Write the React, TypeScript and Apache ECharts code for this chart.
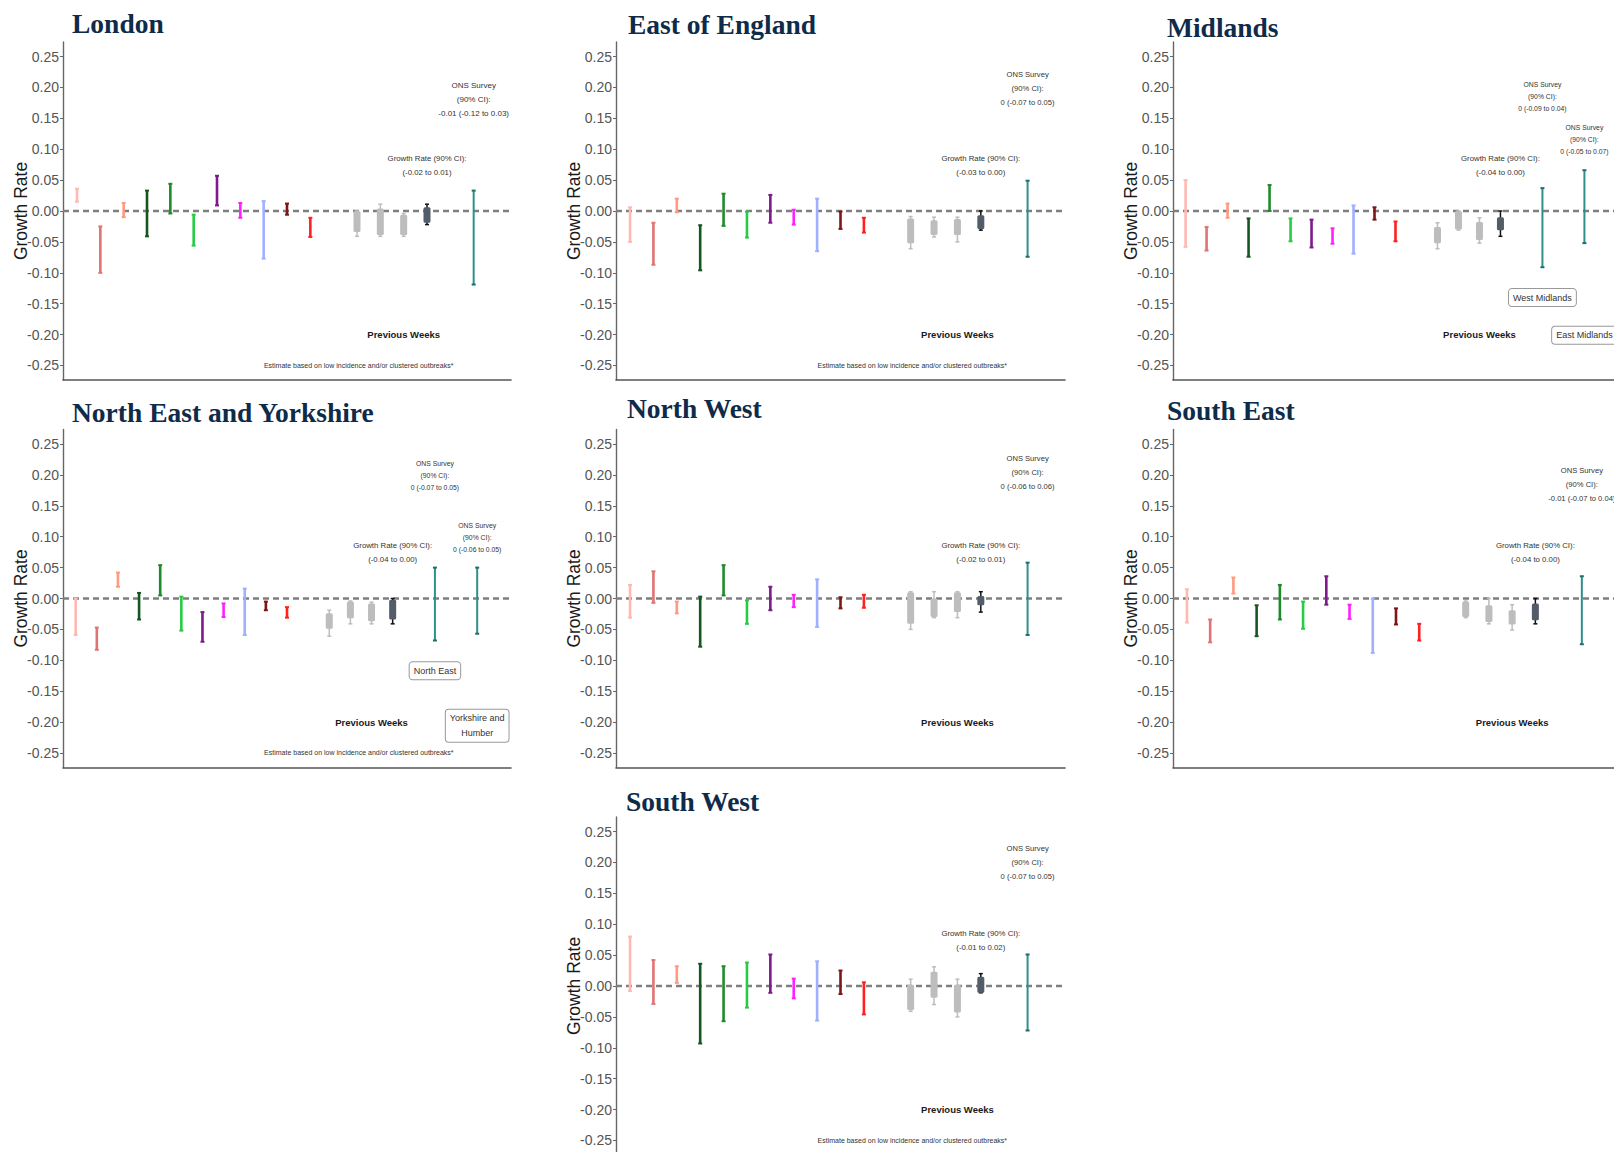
import React, { useEffect, useRef } from 'react';
import * as echarts from 'echarts';

// ---------- data ----------
const BAR_COLORS = ['#ffb8b2', '#e07474', '#ff9a80', '#16561f', '#1f8a2b', '#27cc45', '#7e1a8c', '#ff1fff', '#9fb0ff', '#7d1616', '#ff2020'];
const GRAY = '#bdbdbd';
const DARK_BOX = '#525d69';
const TEAL = '#2f8f8a';
const Y_TICKS = [-0.25, -0.2, -0.15, -0.1, -0.05, 0, 0.05, 0.1, 0.15, 0.2, 0.25];

// [low, high] for the 11 coloured weeks
const londonBars = [[0.015, 0.036], [-0.100, -0.025], [-0.010, 0.013], [-0.041, 0.033], [-0.004, 0.044], [-0.056, -0.006], [0.009, 0.057], [-0.011, 0.013], [-0.077, 0.016], [-0.006, 0.012], [-0.042, -0.011]];
const eastBars = [[-0.050, 0.006], [-0.087, -0.019], [-0.002, 0.020], [-0.096, -0.023], [-0.024, 0.028], [-0.043, -0.001], [-0.019, 0.026], [-0.022, 0.002], [-0.065, 0.020], [-0.029, -0.001], [-0.035, -0.011]];
const midlandsBars = [[-0.058, 0.050], [-0.064, -0.026], [-0.011, 0.012], [-0.074, -0.012], [0.000, 0.042], [-0.049, -0.012], [-0.059, -0.014], [-0.053, -0.028], [-0.069, 0.009], [-0.014, 0.006], [-0.049, -0.017]];
const neyBars = [[-0.059, 0.000], [-0.083, -0.047], [0.019, 0.042], [-0.034, 0.009], [0.005, 0.054], [-0.052, 0.003], [-0.070, -0.022], [-0.030, -0.008], [-0.059, 0.016], [-0.019, -0.005], [-0.031, -0.014]];
const nwBars = [[-0.031, 0.022], [-0.007, 0.044], [-0.024, -0.005], [-0.078, 0.003], [0.005, 0.054], [-0.041, -0.003], [-0.019, 0.019], [-0.014, 0.006], [-0.046, 0.031], [-0.016, 0.002], [-0.015, 0.006]];
const seBars = [[-0.039, 0.015], [-0.071, -0.034], [0.008, 0.034], [-0.061, -0.011], [-0.034, 0.022], [-0.049, -0.005], [-0.010, 0.036], [-0.033, -0.010], [-0.088, 0.000], [-0.042, -0.016], [-0.068, -0.041]];
const swBars = [[-0.008, 0.080], [-0.029, 0.042], [0.005, 0.032], [-0.093, 0.036], [-0.057, 0.032], [-0.035, 0.038], [-0.011, 0.051], [-0.020, 0.012], [-0.056, 0.040], [-0.013, 0.025], [-0.046, 0.006]];

// previous weeks: [whiskerLow, boxLow, boxHigh, whiskerHigh]
const londonPrev = [[-0.041, -0.034, 0.000, 0.000], [-0.041, -0.039, 0.004, 0.011], [-0.041, -0.039, -0.006, -0.004], [-0.022, -0.019, 0.006, 0.011]];
const eastPrev = [[-0.061, -0.052, -0.012, -0.009], [-0.042, -0.039, -0.015, -0.010], [-0.050, -0.039, -0.013, -0.010], [-0.031, -0.029, -0.007, 0.000]];
const midlandsPrev = [[-0.061, -0.052, -0.026, -0.019], [-0.031, -0.030, 0.000, 0.000], [-0.052, -0.047, -0.018, -0.011], [-0.041, -0.031, -0.010, 0.000]];
const neyPrev = [[-0.061, -0.049, -0.024, -0.019], [-0.041, -0.032, -0.005, -0.004], [-0.041, -0.037, -0.008, -0.006], [-0.041, -0.034, -0.002, 0.000]];
const nwPrev = [[-0.050, -0.041, 0.010, 0.011], [-0.031, -0.030, 0.000, 0.011], [-0.031, -0.022, 0.010, 0.011], [-0.022, -0.011, 0.004, 0.011]];
const sePrev = [[-0.031, -0.030, -0.005, -0.004], [-0.041, -0.038, -0.011, 0.000], [-0.051, -0.042, -0.019, -0.010], [-0.041, -0.035, -0.008, 0.000]];
const swPrev = [[-0.041, -0.039, 0.002, 0.011], [-0.030, -0.019, 0.023, 0.031], [-0.050, -0.043, 0.002, 0.011], [-0.011, -0.011, 0.015, 0.020]];

// ONS survey [low, high]
const londonOns = [[-0.119, 0.033]];
const eastOns = [[-0.074, 0.049]];
const midlandsOns = [[-0.091, 0.037], [-0.052, 0.066]];
const neyOns = [[-0.068, 0.050], [-0.057, 0.050]];
const nwOns = [[-0.059, 0.058]];
const seOns = [[-0.074, 0.036]];
const swOns = [[-0.072, 0.051]];

const londonOnsText = ['-0.01 (-0.12 to 0.03)'];
const eastOnsText = ['0 (-0.07 to 0.05)'];
const midlandsOnsText = ['0 (-0.09 to 0.04)', '0 (-0.05 to 0.07)'];
const neyOnsText = ['0 (-0.07 to 0.05)', '0 (-0.06 to 0.05)'];
const nwOnsText = ['0 (-0.06 to 0.06)'];
const seOnsText = ['-0.01 (-0.07 to 0.04)'];
const swOnsText = ['0 (-0.07 to 0.05)'];

const growthTexts = ['(-0.02 to 0.01)', '(-0.03 to 0.00)', '(-0.04 to 0.00)', '(-0.04 to 0.00)', '(-0.02 to 0.01)', '(-0.04 to 0.00)', '(-0.01 to 0.02)'];
const regionNames = ['London', 'East of England', 'Midlands', 'North East and Yorkshire', 'North West', 'South East', 'South West'];
const midlandsBoxes = ['West Midlands', 'East Midlands'];
const neyBoxes = ['North East', 'Yorkshire and\nHumber'];
const FOOTNOTE = 'Estimate based on low incidence and/or clustered outbreaks*';

// ---------- layout ----------
const PANELS = [
  { bars: londonBars, prev: londonPrev, ons: londonOns, onsText: londonOnsText, left: 63, top: 42, width: 448, xMax: 18.6, titleX: 72, titleY: 23, onsY: [0.181], onsFont: 8, onsLH: 14, footX: 12.07, boxes: [], boxY: [] },
  { bars: eastBars, prev: eastPrev, ons: eastOns, onsText: eastOnsText, left: 616, top: 42, width: 449, xMax: 18.6, titleX: 628, titleY: 24, onsY: [0.198], onsFont: 7.6, onsLH: 14, footX: 12.07, boxes: [], boxY: [] },
  { bars: midlandsBars, prev: midlandsPrev, ons: midlandsOns, onsText: midlandsOnsText, left: 1173, top: 42, width: 445, xMax: 20.6, titleX: 1167, titleY: 27, onsY: [0.185, 0.116], onsFont: 6.8, onsLH: 12, footX: null, boxes: midlandsBoxes, boxY: [-0.140, -0.201] },
  { bars: neyBars, prev: neyPrev, ons: neyOns, onsText: neyOnsText, left: 63, top: 429.5, width: 448, xMax: 20.6, titleX: 72, titleY: 412.5, onsY: [0.199, 0.099], onsFont: 6.8, onsLH: 11.7, footX: 13.4, boxes: neyBoxes, boxY: [-0.117, -0.206] },
  { bars: nwBars, prev: nwPrev, ons: nwOns, onsText: nwOnsText, left: 616, top: 429.5, width: 449, xMax: 18.6, titleX: 627, titleY: 408, onsY: [0.204], onsFont: 7.6, onsLH: 14, footX: null, boxes: [], boxY: [] },
  { bars: seBars, prev: sePrev, ons: seOns, onsText: seOnsText, left: 1173, top: 429.5, width: 446, xMax: 18.6, titleX: 1167, titleY: 410.5, onsY: [0.184], onsFont: 7.6, onsLH: 14, footX: null, boxes: [], boxY: [] },
  { bars: swBars, prev: swPrev, ons: swOns, onsText: swOnsText, left: 616, top: 817, width: 449, xMax: 18.6, titleX: 626, titleY: 801, onsY: [0.200], onsFont: 7.6, onsLH: 14, footX: 12.07, boxes: [], boxY: [] },
];

const FONT = 'Liberation Sans';
const PLOT_H = 338;
const Y_MAX = 0.2735;

function buildOption() {
  const grid: any[] = [];
  const xAxis: any[] = [];
  const yAxis: any[] = [];
  const series: any[] = [];
  const title: any[] = [];

  PANELS.forEach((p, pi) => {
    grid.push({ left: p.left, top: p.top, width: p.width, height: PLOT_H, containLabel: false, outerBoundsMode: 'none' });
    xAxis.push({
      type: 'value', gridIndex: pi, min: -0.6, max: p.xMax,
      axisLine: { show: true, onZero: false, lineStyle: { color: '#555', width: 1.6 } },
      axisTick: { show: false }, axisLabel: { show: false }, splitLine: { show: false },
    });
    yAxis.push({
      type: 'value', gridIndex: pi, min: -Y_MAX, max: Y_MAX,
      name: 'Growth Rate', nameLocation: 'middle', nameGap: 33, nameRotate: 90, nameMoveOverlap: false,
      nameTextStyle: { fontSize: 17.5, color: '#1a1a1a', fontFamily: FONT },
      axisLine: { show: true, onZero: false, lineStyle: { color: '#666', width: 1.4 } },
      axisTick: { show: true, length: 3, customValues: Y_TICKS, lineStyle: { color: '#666' } },
      axisLabel: { show: true, customValues: Y_TICKS, margin: 4, fontSize: 14, color: '#555', fontFamily: FONT, formatter: (v: number) => v.toFixed(2) },
      splitLine: { show: false },
    });
    title.push({
      text: regionNames[pi], left: p.titleX, top: p.titleY - 15, padding: 0,
      textStyle: { fontFamily: 'Liberation Serif', fontWeight: 'bold', fontSize: 27.5, color: '#0f2b4a', lineHeight: 30 },
    });

    // dashed zero line
    series.push({
      type: 'line', xAxisIndex: pi, yAxisIndex: pi, data: [[-0.6, 0], [p.xMax, 0]],
      symbol: 'none', silent: true, z: 1,
      lineStyle: { color: '#7f7f7f', width: 2.4, type: [6, 4] },
    });

    // coloured weekly bars
    series.push({
      type: 'custom', xAxisIndex: pi, yAxisIndex: pi, z: 3, silent: true,
      encode: { x: 0, y: [1, 2] },
      data: p.bars.map((b, i) => [i, b[0], b[1]]),
      renderItem: (params: any, api: any) => {
        const x = api.value(0);
        const lo = api.coord([x, api.value(1)]);
        const hi = api.coord([x, api.value(2)]);
        const c = BAR_COLORS[params.dataIndex];
        const w = 2.6;
        return {
          type: 'group',
          children: [
            { type: 'line', shape: { x1: lo[0], y1: lo[1], x2: hi[0], y2: hi[1] }, style: { stroke: c, lineWidth: w } },
            { type: 'line', shape: { x1: lo[0] - 2, y1: lo[1], x2: lo[0] + 2, y2: lo[1] }, style: { stroke: c, lineWidth: 2 } },
            { type: 'line', shape: { x1: hi[0] - 2, y1: hi[1], x2: hi[0] + 2, y2: hi[1] }, style: { stroke: c, lineWidth: 2 } },
          ],
        };
      },
    });

    // previous weeks (box + whisker)
    series.push({
      type: 'custom', xAxisIndex: pi, yAxisIndex: pi, z: 3, silent: true,
      encode: { x: 0, y: [1, 4] },
      data: p.prev.map((g, j) => [12 + j, g[0], g[1], g[2], g[3]]),
      renderItem: (params: any, api: any) => {
        const x = api.value(0);
        const wl = api.coord([x, api.value(1)]);
        const bl = api.coord([x, api.value(2)]);
        const bh = api.coord([x, api.value(3)]);
        const wh = api.coord([x, api.value(4)]);
        const last = params.dataIndex === 3;
        const boxC = last ? DARK_BOX : GRAY;
        const whC = last ? '#111' : GRAY;
        return {
          type: 'group',
          children: [
            { type: 'line', shape: { x1: wl[0], y1: wl[1], x2: wh[0], y2: wh[1] }, style: { stroke: whC, lineWidth: 1.5 } },
            { type: 'line', shape: { x1: wl[0] - 2, y1: wl[1], x2: wl[0] + 2, y2: wl[1] }, style: { stroke: whC, lineWidth: 1.5 } },
            { type: 'line', shape: { x1: wh[0] - 2, y1: wh[1], x2: wh[0] + 2, y2: wh[1] }, style: { stroke: whC, lineWidth: 1.5 } },
            { type: 'rect', shape: { x: bh[0] - 3.5, y: bh[1], width: 7, height: Math.max(bl[1] - bh[1], 1), r: 1.5 }, style: { fill: boxC } },
          ],
        };
      },
    });

    // ONS survey bars
    series.push({
      type: 'custom', xAxisIndex: pi, yAxisIndex: pi, z: 4, silent: true,
      encode: { x: 0, y: [1, 2] },
      data: p.ons.map((o, k) => [17 + 2 * k, o[0], o[1]]),
      renderItem: (params: any, api: any) => {
        const x = api.value(0);
        const lo = api.coord([x, api.value(1)]);
        const hi = api.coord([x, api.value(2)]);
        return {
          type: 'group',
          children: [
            { type: 'line', shape: { x1: lo[0], y1: lo[1], x2: hi[0], y2: hi[1] }, style: { stroke: TEAL, lineWidth: 2 } },
            { type: 'line', shape: { x1: lo[0] - 2, y1: lo[1], x2: lo[0] + 2, y2: lo[1] }, style: { stroke: '#1f6e6a', lineWidth: 2 } },
            { type: 'line', shape: { x1: hi[0] - 2, y1: hi[1], x2: hi[0] + 2, y2: hi[1] }, style: { stroke: '#1f6e6a', lineWidth: 2 } },
          ],
        };
      },
    });

    // annotations
    const ann: any[] = [];
    p.onsText.forEach((t, k) => {
      ann.push({ x: 17 + 2 * k, y: p.onsY[k], text: 'ONS Survey\n(90% CI):\n' + t, size: p.onsFont, lh: p.onsLH, color: '#333' });
    });
    ann.push({ x: 15, y: 0.074, text: 'Growth Rate (90% CI):\n' + growthTexts[pi], size: 7.8, lh: 14, color: '#333' });
    ann.push({ x: 14, y: -0.2, text: 'Previous Weeks', size: 9.5, lh: 12, color: '#1a1a1a', bold: true });
    if (p.footX !== null) ann.push({ x: p.footX, y: -0.25, text: FOOTNOTE, size: 7, lh: 10, color: '#333' });
    p.boxes.forEach((t, k) => {
      ann.push({ x: 17 + 2 * k, y: p.boxY[k], text: t, size: 9, lh: 15, color: '#333', box: true });
    });
    series.push({
      type: 'custom', xAxisIndex: pi, yAxisIndex: pi, z: 5, silent: true, clip: false,
      encode: { x: 0, y: 1 },
      data: ann.map((a) => [a.x, a.y]),
      renderItem: (params: any, api: any) => {
        const a = ann[params.dataIndex];
        const pt = api.coord([api.value(0), api.value(1)]);
        const style: any = {
          text: a.text, fill: a.color, fontSize: a.size, fontFamily: FONT, fontWeight: a.bold ? 'bold' : 'normal',
          lineHeight: a.lh, align: 'center', verticalAlign: 'middle', textAlign: 'center', textVerticalAlign: 'middle',
        };
        if (a.box) {
          style.backgroundColor = '#fff';
          style.borderColor = '#999';
          style.borderWidth = 1;
          style.borderRadius = 3;
          style.padding = [1, 4];
        }
        return { type: 'text', x: pt[0], y: pt[1], style };
      },
    });
  });

  return { animation: false, backgroundColor: '#fff', title, grid, xAxis, yAxis, series };
}

export default function App() {
  const ref = useRef<HTMLDivElement>(null);
  useEffect(() => {
    if (!ref.current) return;
    const chart = echarts.init(ref.current, undefined, { renderer: 'svg' });
    chart.setOption(buildOption() as any);
    return () => chart.dispose();
  }, []);
  return <div ref={ref} style={{ position: 'fixed', left: 0, top: 0, width: 1614, height: 1152, background: '#fff' }} />;
}
